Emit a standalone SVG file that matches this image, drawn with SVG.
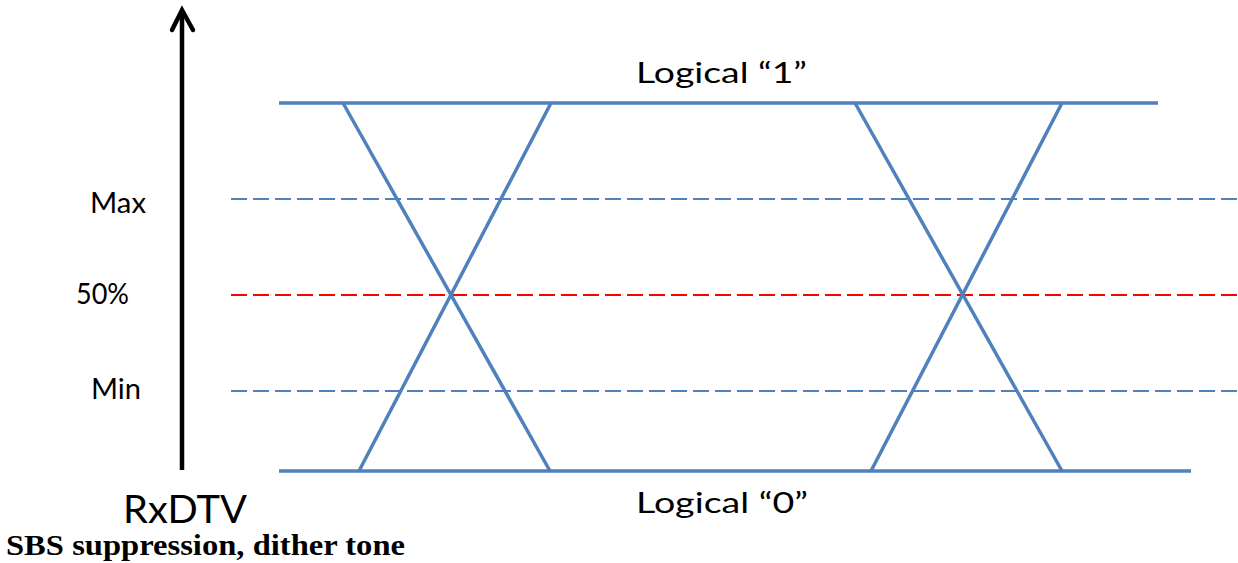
<svg xmlns="http://www.w3.org/2000/svg" width="1238" height="563" viewBox="0 0 1238 563">
<style>
.sig{stroke:#4F81BD;stroke-width:3.5;fill:none;stroke-linecap:butt}
.dash{stroke:#4F81BD;stroke-width:2;stroke-dasharray:16 6;fill:none}
.red{stroke:#FF0000;stroke-width:2;stroke-dasharray:16 6;fill:none}
.lbl{font-family:Lato,"Liberation Sans",sans-serif;font-size:28px;fill:#000}
.big{font-family:Lato,"Liberation Sans",sans-serif;font-size:39px;fill:#000}
.cap{font-family:"Liberation Serif","Times New Roman",serif;font-weight:bold;font-size:30px;fill:#000}
</style>
<rect width="1238" height="563" fill="#fff"/>
<g id="axis">
<line x1="182" y1="470" x2="182" y2="11" stroke="#000" stroke-width="4.5"/>
<polyline points="172,30 182,10 193,30" fill="none" stroke="#000" stroke-width="4.5" stroke-linecap="round" stroke-linejoin="miter"/>
</g>
<g id="levels">
<line class="dash" x1="231" y1="199" x2="1238" y2="199"/>
<line class="red" x1="231" y1="295" x2="1238" y2="295"/>
<line class="dash" x1="231" y1="391" x2="1238" y2="391"/>
</g>
<g id="signal">
<line class="sig" x1="279" y1="103" x2="1158" y2="103"/>
<line class="sig" x1="279" y1="471" x2="1191" y2="471"/>
<line class="sig" x1="343" y1="103" x2="550" y2="471"/>
<line class="sig" x1="551" y1="103" x2="359" y2="471"/>
<line class="sig" x1="855" y1="103" x2="1062" y2="471"/>
<line class="sig" x1="1062" y1="103" x2="871" y2="471"/>
</g>
<g id="labels">
<text class="lbl" x="636" y="83" textLength="171" lengthAdjust="spacingAndGlyphs">Logical “1”</text>
<text class="lbl" x="636" y="513" textLength="172" lengthAdjust="spacingAndGlyphs">Logical “0”</text>
<text class="lbl" x="90" y="213" textLength="56" lengthAdjust="spacingAndGlyphs">Max</text>
<text class="lbl" x="76" y="304" textLength="53" lengthAdjust="spacingAndGlyphs">50%</text>
<text class="lbl" x="91" y="399" textLength="50" lengthAdjust="spacingAndGlyphs">Min</text>
<text class="big" x="123" y="523" textLength="124" lengthAdjust="spacingAndGlyphs">RxDTV</text>
<text class="cap" x="6" y="555" textLength="399" lengthAdjust="spacingAndGlyphs">SBS suppression, dither tone</text>
</g>
</svg>
